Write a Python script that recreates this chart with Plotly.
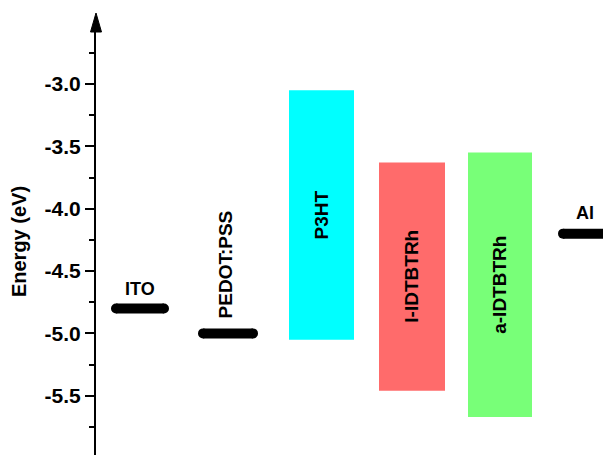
import plotly.graph_objects as go

# ---- data ----
level_names = ["ITO", "PEDOT:PSS", "Al"]
level_energy = [-4.8, -5.0, -4.2]

box_names = ["P3HT", "I-IDTBTRh", "a-IDTBTRh"]
box_lumo = [-3.05, -3.63, -3.55]
box_homo = [-5.05, -5.46, -5.67]
box_colors = ["#00FFFF", "#FF6B6B", "#78FF78"]

tick_vals = [-5.5, -5.0, -4.5, -4.0, -3.5, -3.0]
tick_text = ["-5.5", "-5.0", "-4.5", "-4.0", "-3.5", "-3.0"]
minor_vals = [-5.75, -5.25, -4.75, -4.25, -3.75, -3.25, -2.75]

# ---- layout constants (screen px; page body adds an 8 px offset) ----
OFF = 8
level_x = [(111, 169), (198, 258), (558, 680)]
box_x = [(289, 354), (379, 445), (468, 532)]

W, H = 611, 455
AXIS_X = 96          # screen x of y axis
TOP_Y = 20           # screen y where plot area starts
ML = AXIS_X - OFF
MT = TOP_Y - OFF
MB, MR = 0, 0
px_per_ev = 124.7
y_ref_px, y_ref_ev = 84, -3.0            # screen px of -3.0 tick
BOT_Y = H + OFF - MB                     # screen y where plot area ends
y_top = y_ref_ev + (y_ref_px - TOP_Y) / px_per_ev
y_bot = y_ref_ev - (BOT_Y - y_ref_px) / px_per_ev

FONT = "Liberation Sans, Arial, sans-serif"

fig = go.Figure()

# boxes (x axis is in screen px units)
for name, lo, hi, col, (x0, x1) in zip(box_names, box_lumo, box_homo, box_colors, box_x):
    fig.add_shape(type="rect", x0=x0, x1=x1, y0=hi, y1=lo, xref="x", yref="y",
                  fillcolor=col, line=dict(width=0), layer="below")
    fig.add_annotation(x=(x0 + x1) / 2, y=(lo + hi) / 2, text=name, textangle=-90,
                       showarrow=False, font=dict(family=FONT, size=19, color="black", weight="bold"))

# levels
for name, e, (x0, x1) in zip(level_names, level_energy, level_x):
    fig.add_trace(go.Scatter(x=[x0 + 5, x1 - 5], y=[e, e], mode="lines+markers",
                             line=dict(color="black", width=10),
                             marker=dict(color="black", size=10),
                             showlegend=False, hoverinfo="skip", cliponaxis=False))

# level labels
fig.add_annotation(x=140, y=level_energy[0], yshift=19, text="ITO", showarrow=False,
                   font=dict(family=FONT, size=18, color="black", weight="bold"))
fig.add_annotation(x=585, y=level_energy[2], yshift=21, text="Al", showarrow=False,
                   font=dict(family=FONT, size=18, color="black", weight="bold"))
fig.add_annotation(x=225, y=level_energy[1], yshift=13, text="PEDOT:PSS", textangle=-90,
                   yanchor="bottom", showarrow=False,
                   font=dict(family=FONT, size=19, color="black", weight="bold"))

# arrowhead on y axis
PH = H - MT - MB
PW = W - ML - MR


def py(p):  # screen y -> paper
    return (BOT_Y - p) / PH


def pxp(p):  # screen x -> paper
    return (p - AXIS_X) / PW


fig.add_shape(type="path", xref="paper", yref="paper",
              path=f"M {pxp(96)},{py(13)} L {pxp(101.5)},{py(32)} L {pxp(90.5)},{py(32)} Z",
              fillcolor="black", line=dict(color="black", width=1))
fig.add_shape(type="line", xref="paper", yref="paper", x0=0, x1=0, y0=1, y1=py(30),
              line=dict(color="black", width=2))

fig.update_layout(
    width=W, height=H,
    margin=dict(l=ML, r=MR, t=MT, b=MB),
    plot_bgcolor="white", paper_bgcolor="white",
    font=dict(family=FONT, color="black"),
    xaxis=dict(range=[AXIS_X, AXIS_X + PW], visible=False, fixedrange=True),
    yaxis=dict(range=[y_bot, y_top], showline=True, linecolor="black", linewidth=2,
               showgrid=False, zeroline=False, ticks="outside", ticklen=9, tickwidth=2,
               tickcolor="black", tickvals=tick_vals, ticktext=tick_text,
               tickfont=dict(family=FONT, size=21, color="black", weight="bold"),
               minor=dict(tickvals=minor_vals, ticks="outside", ticklen=5, tickwidth=2,
                          tickcolor="black", showgrid=False),
               title=dict(text="Energy (eV)", standoff=14,
                          font=dict(family=FONT, size=20, color="black", weight="bold"))),
    showlegend=False,
)

fig.write_html("out.html")
